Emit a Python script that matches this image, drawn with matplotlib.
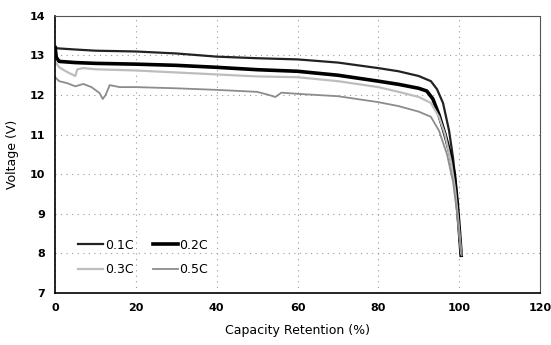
import matplotlib.pyplot as plt

# Capacity retention (%) vs voltage (V) for each discharge rate
x_01c = [0, 0.5, 5, 10, 20, 30, 40, 50, 60, 70, 80, 85, 90, 93, 94.5, 96, 97.5, 98.5, 99.3, 100, 100.4]
v_01c = [13.22, 13.18, 13.15, 13.12, 13.1, 13.05, 12.97, 12.93, 12.9, 12.82, 12.68, 12.6, 12.48, 12.35,
         12.15, 11.8, 11.1, 10.4, 9.6, 8.6, 8.0]

x_02c = [0, 0.3, 1, 5, 10, 20, 30, 40, 50, 60, 70, 80, 85, 90, 92, 93.5, 95, 96.5, 97.8, 98.8, 99.5, 100.1, 100.5]
v_02c = [13.2, 12.95, 12.85, 12.82, 12.8, 12.78, 12.75, 12.7, 12.64, 12.6, 12.5, 12.35, 12.27, 12.17, 12.1,
         11.9, 11.5, 11.0, 10.5, 10.0, 9.3, 8.5, 7.95]

x_03c = [0, 1, 3, 5, 5.5, 7, 10, 20, 30, 40, 50, 60, 70, 80, 85, 90, 93, 95, 96.5, 98, 99, 99.8, 100.5]
v_03c = [12.85, 12.7, 12.58, 12.48, 12.65, 12.68, 12.65, 12.62, 12.57, 12.52, 12.47, 12.45, 12.35, 12.2,
         12.08, 11.95, 11.8, 11.45, 11.0, 10.3, 9.6, 8.8, 8.0]

x_05c = [0, 1, 3, 5, 7, 9, 11, 11.8, 12.5, 13.5, 16, 20, 30, 40, 50, 53, 54.5, 56, 60, 70, 80, 85, 90, 93,
         95, 97, 98.5, 99.5, 100.2, 100.6]
v_05c = [12.45, 12.35, 12.3, 12.22, 12.28, 12.2, 12.05, 11.9, 12.0, 12.25, 12.2, 12.2, 12.17, 12.13, 12.08,
         12.0, 11.95, 12.06, 12.03, 11.97, 11.82, 11.72, 11.58, 11.45, 11.1, 10.5, 9.8, 9.0, 8.3, 7.95]

fig = plt.figure(figsize=(5.51, 3.45), dpi=100)
ax = fig.add_axes([0.1, 0.151, 0.88, 0.803])

l1, = ax.plot(x_01c, v_01c, color="#222222", lw=1.6, label="0.1C")
l2, = ax.plot(x_02c, v_02c, color="black", lw=2.6, label="0.2C")
l3, = ax.plot(x_03c, v_03c, color="#bdbdbd", lw=1.6, label="0.3C")
l4, = ax.plot(x_05c, v_05c, color="#8c8c8c", lw=1.3, label="0.5C")

ax.set_xlim(0, 120)
ax.set_ylim(7, 14)
ax.set_xticks(range(0, 121, 20))
ax.set_yticks(range(7, 15))
ax.grid(True, color="#999999", linestyle=(0, (1, 4)), lw=0.8)
ax.tick_params(labelsize=8, length=0, pad=7)
for lbl in ax.get_xticklabels() + ax.get_yticklabels():
    lbl.set_fontweight("bold")

ax.spines["left"].set_linewidth(1.2)
ax.spines["bottom"].set_linewidth(1.2)
for s in ("top", "right"):
    ax.spines[s].set_linestyle((0, (1, 1)))
    ax.spines[s].set_color("#555555")

ax.set_xlabel("Capacity Retention (%)", fontsize=9, labelpad=8)
ax.set_ylabel("Voltage (V)", fontsize=9, labelpad=8)

# row-wise order: 0.1C 0.2C / 0.3C 0.5C
ax.legend([l1, l3, l2, l4], ["0.1C", "0.3C", "0.2C", "0.5C"], ncol=2, loc="lower left",
          bbox_to_anchor=(0.025, 0.02), frameon=False, fontsize=9,
          handlelength=2.0, handletextpad=0.1, columnspacing=1.6, labelspacing=0.9)

fig.savefig("out.png", dpi=100)
